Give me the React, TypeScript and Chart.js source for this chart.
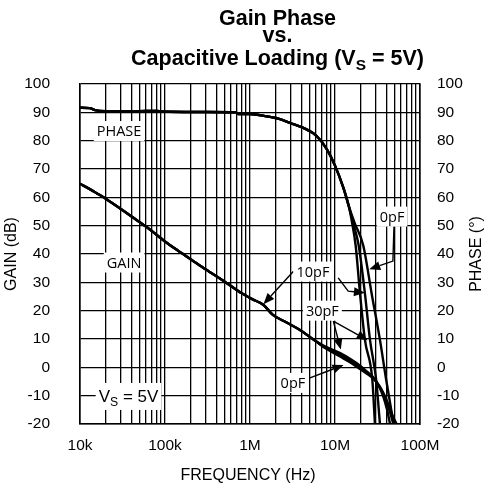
import React, { useEffect, useRef } from 'react';
import { Chart, registerables } from 'chart.js';

Chart.register(...registerables);

// ---------- axis ticks ----------
const decadeTicks = [1e4, 1e5, 1e6, 1e7, 1e8];
const decadeLabels = ['10k', '100k', '1M', '10M', '100M'];
const yMin = -20;
const yMax = 100;
const yStep = 10;

// ---------- gain (dB) ----------
const gainCommonFreq = [1e4, 1.43e4, 1.95e4, 2.8e4, 4.0e4, 6.3e4, 9.9e4, 1.4e5, 2.04e5, 3.0e5, 5.0e5, 7.9e5, 1.09e6, 1.43e6, 1.86e6, 2.7e6, 3.87e6, 5.3e6];
const gainCommonDb = [64.8, 62.2, 59.8, 56.6, 53.3, 49.2, 44.5, 41.3, 38.0, 34.6, 30.3, 26.2, 23.9, 22.1, 18.5, 15.8, 13.2, 10.3];

const gainTailFreq0pF = [7.3e6, 1.15e7, 1.5e7, 1.97e7, 2.4e7, 2.83e7, 3.3e7, 3.7e7, 4.3e7, 4.8e7, 5.3e7];
const gainTailDb0pF = [7.2, 3.8, 1.8, -0.6, -2.4, -4.0, -6.4, -9.0, -13.5, -17.3, -20];
const gainTailFreq10pF = [7.3e6, 1.15e7, 1.5e7, 1.97e7, 2.4e7, 2.83e7, 3.3e7, 3.7e7, 4.3e7, 4.86e7];
const gainTailDb10pF = [7.4, 4.4, 2.4, 0.0, -2.0, -3.8, -6.5, -9.4, -14.5, -20];
const gainTailFreq30pF = [7.3e6, 1.15e7, 1.5e7, 1.97e7, 2.4e7, 2.83e7, 3.3e7, 3.7e7, 4.1e7, 4.44e7];
const gainTailDb30pF = [7.7, 5.0, 3.0, 0.6, -1.6, -3.6, -6.8, -10.3, -15.0, -20];

// ---------- phase (deg) ----------
const phaseCommonFreq = [1e4, 1.3e4, 1.5e4, 2e4, 4e4, 6e4, 8e4, 1.1e5, 3e5, 6.8e5, 7.3e5, 1e6, 1.57e6, 2.2e6, 2.95e6, 4.25e6, 6.1e6, 8e6, 1.0e7, 1.25e7, 1.45e7];
const phaseCommonDeg = [91.6, 91.5, 90.8, 90.4, 90.3, 90.5, 90.5, 90.2, 90.1, 90.0, 89.4, 89.4, 88.6, 87.7, 86.3, 84.5, 81.6, 77.0, 71.2, 63.5, 57.0];

const phaseTailFreq0pF = [1.7e7, 2.15e7, 2.7e7, 3.38e7, 4.0e7, 4.9e7];
const phaseTailDeg0pF = [51, 43, 26, 9.7, -4.4, -20];
const phaseTailFreq10pF = [1.65e7, 1.9e7, 2.25e7, 2.58e7, 3.05e7, 3.38e7];
const phaseTailDeg10pF = [50.5, 43, 26, 9.7, -4.4, -20];
const phaseTailFreq30pF = [1.6e7, 1.75e7, 1.97e7, 2.25e7, 2.75e7, 2.95e7];
const phaseTailDeg30pF = [50.5, 43, 26, 9.7, -4.4, -20];

// ---------- annotations (data coordinates: frequency, value) ----------
const noteTexts = ['PHASE', 'GAIN', '0pF', '10pF', '30pF', '0pF'];
const noteFreqs = [28.8e3, 33e3, 46.9e6, 5.5e6, 7.1e6, 3.2e6];
const noteValues = [83.4, 37.0, 53.2, 33.8, 20.0, -5.5];
const supplyNoteFreq = 37.2e3;
const supplyNoteValue = -10.1;

const arrowPaths: [number, number][][] = [
  [[49.4e6, 49.7], [48.0e6, 37.5], [25.3e6, 34.6]],
  [[3.23e6, 33.8], [1.44e6, 22.3]],
  [[10.9e6, 31.6], [14.3e6, 26.9], [22.5e6, 26.3]],
  [[9.55e6, 16.3], [11.7e6, 6.3]],
  [[9.55e6, 16.3], [24.2e6, 9.6]],
  [[5.08e6, -3.7], [12.6e6, 0.8]],
];

const ARIAL = '"Liberation Sans", Arial, sans-serif';
const NOTE_FONT = '"Open Sans", "Noto Sans", sans-serif';

function zip(f: number[], v: number[]) {
  return f.map((x, i) => ({ x, y: v[i] }));
}

const gridValues: number[] = [];
for (let e = 4; e < 8; e++) {
  for (let m = 1; m < 10; m++) gridValues.push(m * Math.pow(10, e));
}
gridValues.push(1e8);

type Seg = { t: string; sub?: boolean };

function drawRich(ctx: CanvasRenderingContext2D, segs: Seg[], cx: number, baseline: number, size: number, weight: string, family: string) {
  const widths: number[] = [];
  let total = 0;
  for (const s of segs) {
    ctx.font = `${weight} ${s.sub ? size * 0.72 : size}px ${family}`;
    const w = ctx.measureText(s.t).width;
    widths.push(w);
    total += w;
  }
  let x = cx - total / 2;
  ctx.textAlign = 'left';
  ctx.textBaseline = 'alphabetic';
  segs.forEach((s, i) => {
    ctx.font = `${weight} ${s.sub ? size * 0.72 : size}px ${family}`;
    ctx.fillText(s.t, x, baseline + (s.sub ? size * 0.24 : 0));
    x += widths[i];
  });
  return total;
}

function drawArrow(ctx: CanvasRenderingContext2D, pts: number[][]) {
  const n = pts.length;
  const [tx, ty] = pts[n - 1];
  const [px, py] = pts[n - 2];
  const ang = Math.atan2(ty - py, tx - px);
  const len = 11;
  const half = 4.5;
  const bx = tx - len * Math.cos(ang);
  const by = ty - len * Math.sin(ang);
  ctx.beginPath();
  ctx.moveTo(pts[0][0], pts[0][1]);
  for (let i = 1; i < n - 1; i++) ctx.lineTo(pts[i][0], pts[i][1]);
  ctx.lineTo(bx, by);
  ctx.lineWidth = 1.4;
  ctx.strokeStyle = '#000';
  ctx.stroke();
  ctx.beginPath();
  ctx.moveTo(tx, ty);
  ctx.lineTo(bx + half * Math.sin(ang), by - half * Math.cos(ang));
  ctx.lineTo(bx - half * Math.sin(ang), by + half * Math.cos(ang));
  ctx.closePath();
  ctx.fillStyle = '#000';
  ctx.fill();
}

const notesPlugin = {
  id: 'notes',
  afterDatasetsDraw(chart: any) {
    const ctx: CanvasRenderingContext2D = chart.ctx;
    const xs = chart.scales.x;
    const ys = chart.scales.y;
    const P = (f: number, v: number) => [xs.getPixelForValue(f), ys.getPixelForValue(v)];
    ctx.save();
    for (const path of arrowPaths) {
      drawArrow(ctx, path.map(([f, v]) => P(f, v)));
    }
    ctx.font = `14.5px ${NOTE_FONT}`;
    noteTexts.forEach((t, i) => {
      const [x, y] = P(noteFreqs[i], noteValues[i]);
      const w = ctx.measureText(t).width;
      ctx.fillStyle = '#fff';
      ctx.fillRect(x - w / 2 - 3, y - 10, w + 6, 20);
      ctx.fillStyle = '#000';
      ctx.textAlign = 'center';
      ctx.textBaseline = 'middle';
      ctx.fillText(t, x, y + 1);
    });
    // V_S = 5V note
    {
      const [x, y] = P(supplyNoteFreq, supplyNoteValue);
      const segs: Seg[] = [{ t: 'V' }, { t: 'S', sub: true }, { t: ' = 5V' }];
      let w = 0;
      for (const s of segs) {
        ctx.font = `${s.sub ? 17 * 0.72 : 17}px ${ARIAL}`;
        w += ctx.measureText(s.t).width;
      }
      ctx.fillStyle = '#fff';
      ctx.fillRect(x - w / 2 - 3, y - 13, w + 6, 27);
      ctx.fillStyle = '#000';
      drawRich(ctx, segs, x, y + 6, 17, '', ARIAL);
    }
    ctx.restore();
  },
  afterDraw(chart: any) {
    const ctx: CanvasRenderingContext2D = chart.ctx;
    const area = chart.chartArea;
    ctx.save();
    ctx.fillStyle = '#000';
    drawRich(ctx, [{ t: 'Gain Phase' }], 277.5, 25, 21.5, 'bold', ARIAL);
    drawRich(ctx, [{ t: 'vs.' }], 277.5, 42, 21.5, 'bold', ARIAL);
    drawRich(ctx, [{ t: 'Capacitive Loading (V' }, { t: 'S', sub: true }, { t: ' = 5V)' }], 277.5, 65, 21.5, 'bold', ARIAL);
    // axis titles
    ctx.font = `16px ${ARIAL}`;
    ctx.textAlign = 'center';
    ctx.textBaseline = 'middle';
    ctx.fillText('FREQUENCY (Hz)', (area.left + area.right) / 2 - 2, 476);
    const cy = (area.top + area.bottom) / 2;
    ctx.save();
    ctx.translate(12, cy);
    ctx.rotate(-Math.PI / 2);
    ctx.fillText('GAIN (dB)', 0, 0);
    ctx.restore();
    ctx.save();
    ctx.translate(477, cy);
    ctx.rotate(-Math.PI / 2);
    ctx.fillText('PHASE (°)', 0, 0);
    ctx.restore();
    ctx.restore();
  },
};

export default function App() {
  const ref = useRef<HTMLCanvasElement | null>(null);
  useEffect(() => {
    if (!ref.current) return;
    const line = (data: { x: number; y: number }[], axis: string) => ({
      data,
      yAxisID: axis,
      borderColor: '#000',
      borderWidth: 2.4,
      pointRadius: 0,
      fill: false,
      cubicInterpolationMode: 'monotone' as const,
    });
    const chart = new Chart(ref.current, {
      type: 'line',
      data: {
        datasets: [
          line(zip([...gainCommonFreq, ...gainTailFreq0pF], [...gainCommonDb, ...gainTailDb0pF]), 'y'),
          line(zip([...gainCommonFreq, ...gainTailFreq10pF], [...gainCommonDb, ...gainTailDb10pF]), 'y'),
          line(zip([...gainCommonFreq, ...gainTailFreq30pF], [...gainCommonDb, ...gainTailDb30pF]), 'y'),
          line(zip([...phaseCommonFreq, ...phaseTailFreq0pF], [...phaseCommonDeg, ...phaseTailDeg0pF]), 'y1'),
          line(zip([...phaseCommonFreq, ...phaseTailFreq10pF], [...phaseCommonDeg, ...phaseTailDeg10pF]), 'y1'),
          line(zip([...phaseCommonFreq, ...phaseTailFreq30pF], [...phaseCommonDeg, ...phaseTailDeg30pF]), 'y1'),
        ],
      },
      options: {
        responsive: false,
        animation: false,
        parsing: true,
        layout: { padding: { top: 84, left: 0, right: 0, bottom: 0 } },
        plugins: {
          legend: { display: false },
          title: { display: false },
          tooltip: { enabled: false },
        },
        scales: {
          x: {
            type: 'logarithmic',
            min: 1e4,
            max: 1e8,
            afterBuildTicks: (s: any) => {
              s.ticks = gridValues.map((v) => ({ value: v }));
            },
            afterFit: (s: any) => {
              s.height = 63;
            },
            ticks: {
              autoSkip: false,
              maxRotation: 0,
              padding: 12,
              color: '#000',
              font: { family: ARIAL, size: 15.5 },
              callback: (value: any) => {
                const v = Number(value);
                const i = decadeTicks.findIndex((d) => Math.abs(v - d) / d < 1e-6);
                return i >= 0 ? decadeLabels[i] : '';
              },
            },
            grid: { color: '#000', lineWidth: 1.3, drawTicks: false },
            border: { display: true, color: '#000', width: 1.6 },
          },
          y: {
            position: 'left',
            min: yMin,
            max: yMax,
            afterFit: (s: any) => {
              s.width = 80;
            },
            ticks: { stepSize: yStep, padding: 30, color: '#000', font: { family: ARIAL, size: 15.5 } },
            grid: { color: '#000', lineWidth: 1.3, drawTicks: false },
            border: { display: true, color: '#000', width: 1.6 },
          },
          y1: {
            position: 'right',
            min: yMin,
            max: yMax,
            afterFit: (s: any) => {
              s.width = 67;
            },
            ticks: { stepSize: yStep, padding: 17, color: '#000', font: { family: ARIAL, size: 15.5 } },
            grid: { display: false, drawTicks: false },
            border: { display: true, color: '#000', width: 1.6 },
          },
        },
      } as any,
      plugins: [notesPlugin],
    });
    return () => chart.destroy();
  }, []);
  return (
    <div style={{ position: 'fixed', left: 0, top: 0, width: 487, height: 487, background: '#fff' }}>
      <canvas ref={ref} width={487} height={487} style={{ display: 'block' }} />
    </div>
  );
}
